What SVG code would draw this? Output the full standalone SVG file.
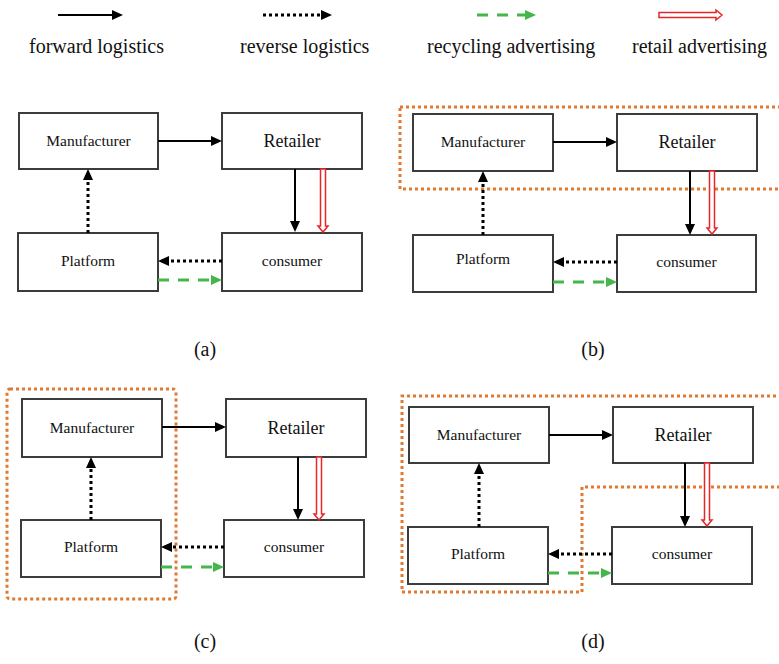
<svg xmlns="http://www.w3.org/2000/svg" width="779" height="664" viewBox="0 0 779 664">
<style>
text{font-family:"Liberation Serif","Times New Roman",serif;fill:#111;}
.lg{font-size:20px;}
.nm{font-size:15.5px;text-anchor:middle;}
.nr{font-size:18px;text-anchor:middle;}
.lb{font-size:20px;text-anchor:middle;}
.box{fill:#fff;stroke:#3c3c3c;stroke-width:2;}
.fw{stroke:#000;stroke-width:2;fill:none;marker-end:url(#hb);}
.rv{stroke:#000;stroke-width:3;stroke-dasharray:3 3;fill:none;marker-end:url(#hb);}
.rc{stroke:#45b649;stroke-width:3;stroke-dasharray:11 9;fill:none;marker-end:url(#hg);}
.org{fill:none;stroke:#e2792f;stroke-width:3;stroke-dasharray:3 3;}
.ra{fill:#fff;stroke:#e8262a;stroke-width:1.5;}
</style>
<defs>
<marker id="hb" markerUnits="userSpaceOnUse" markerWidth="12" markerHeight="10" refX="0" refY="5" orient="auto"><path d="M0,0 L11,5 L0,10 z" fill="#000"/></marker>
<marker id="hg" markerUnits="userSpaceOnUse" markerWidth="12" markerHeight="10" refX="0" refY="5" orient="auto"><path d="M0,0 L11,5 L0,10 z" fill="#45b649"/></marker>
<polygon id="ha" class="ra" points="-2.5,0 2.5,0 2.5,57 5,57 0,63 -5,57 -2.5,57"/>
</defs>

<g id="legend">
<line class="fw" x1="58" y1="15" x2="112" y2="15"/>
<line class="rv" x1="263" y1="15" x2="321" y2="15"/>
<line class="rc" x1="477" y1="15" x2="525" y2="15"/>
<use href="#ha" transform="translate(659,15) rotate(-90)"/>
<text class="lg" x="29" y="53">forward logistics</text>
<text class="lg" x="240" y="53">reverse logistics</text>
<text class="lg" x="427" y="53">recycling advertising</text>
<text class="lg" x="632" y="53">retail advertising</text>
</g>

<!-- Panel (a) -->
<g id="a-manufacturer"><rect class="box" x="19" y="113" width="139" height="56"/><text class="nm" x="88.5" y="146">Manufacturer</text></g>
<g id="a-retailer"><rect class="box" x="222" y="113" width="140" height="56"/><text class="nr" x="292" y="147">Retailer</text></g>
<g id="a-platform"><rect class="box" x="18" y="233" width="140" height="58"/><text class="nm" x="88" y="266">Platform</text></g>
<g id="a-consumer"><rect class="box" x="222" y="233" width="140" height="58"/><text class="nm" x="292" y="266">consumer</text></g>
<g id="a-connectors">
<line class="fw" x1="158" y1="141" x2="211" y2="141"/>
<line class="fw" x1="295" y1="169" x2="295" y2="221"/>
<use href="#ha" transform="translate(323,169)"/>
<line class="rv" x1="88" y1="233" x2="88" y2="180"/>
<line class="rv" x1="222" y1="261" x2="169" y2="261"/>
<line class="rc" x1="158" y1="280" x2="211" y2="280"/>
</g>
<text id="label-a" class="lb" x="205" y="356">(a)</text>

<!-- Panel (b) -->
<g id="b-group"><rect class="org" x="400" y="107" width="382" height="82"/></g>
<g id="b-manufacturer"><rect class="box" x="413" y="114" width="140" height="57"/><text class="nm" x="483" y="147">Manufacturer</text></g>
<g id="b-retailer"><rect class="box" x="617" y="114" width="140" height="57"/><text class="nr" x="687" y="148">Retailer</text></g>
<g id="b-platform"><rect class="box" x="413" y="235" width="140" height="57"/><text class="nm" x="483" y="264">Platform</text></g>
<g id="b-consumer"><rect class="box" x="617" y="235" width="139" height="57"/><text class="nm" x="686.5" y="267">consumer</text></g>
<g id="b-connectors">
<line class="fw" x1="553" y1="142" x2="606" y2="142"/>
<line class="fw" x1="690" y1="171" x2="690" y2="224"/>
<use href="#ha" transform="translate(712,171)"/>
<line class="rv" x1="483" y1="235" x2="483" y2="182"/>
<line class="rv" x1="617" y1="262" x2="564" y2="262"/>
<line class="rc" x1="553" y1="282" x2="606" y2="282"/>
</g>
<text id="label-b" class="lb" x="593" y="356">(b)</text>

<!-- Panel (c) -->
<g id="c-group"><rect class="org" x="7" y="389" width="169" height="210" rx="3"/></g>
<g id="c-manufacturer"><rect class="box" x="22" y="399" width="140" height="58"/><text class="nm" x="92" y="433">Manufacturer</text></g>
<g id="c-retailer"><rect class="box" x="226" y="399" width="140" height="58"/><text class="nr" x="296" y="434">Retailer</text></g>
<g id="c-platform"><rect class="box" x="21" y="520" width="140" height="57"/><text class="nm" x="91" y="552">Platform</text></g>
<g id="c-consumer"><rect class="box" x="224" y="520" width="140" height="57"/><text class="nm" x="294" y="552">consumer</text></g>
<g id="c-connectors">
<line class="fw" x1="162" y1="427" x2="215" y2="427"/>
<line class="fw" x1="298" y1="457" x2="298" y2="509"/>
<use href="#ha" transform="translate(319,457)"/>
<line class="rv" x1="91" y1="520" x2="91" y2="468"/>
<line class="rv" x1="224" y1="547" x2="172" y2="547"/>
<line class="rc" x1="161" y1="567" x2="213" y2="567"/>
</g>
<text id="label-c" class="lb" x="205" y="648">(c)</text>

<!-- Panel (d) -->
<g id="d-group"><path class="org" d="M782,396 H402 V592 H582 V487 H782"/></g>
<g id="d-manufacturer"><rect class="box" x="409" y="407" width="140" height="56"/><text class="nm" x="479" y="440">Manufacturer</text></g>
<g id="d-retailer"><rect class="box" x="613" y="407" width="140" height="56"/><text class="nr" x="683" y="441">Retailer</text></g>
<g id="d-platform"><rect class="box" x="408" y="527" width="140" height="57"/><text class="nm" x="478" y="559">Platform</text></g>
<g id="d-consumer"><rect class="box" x="612" y="527" width="140" height="57"/><text class="nm" x="682" y="559">consumer</text></g>
<g id="d-connectors">
<line class="fw" x1="549" y1="435" x2="602" y2="435"/>
<line class="fw" x1="685" y1="463" x2="685" y2="516"/>
<use href="#ha" transform="translate(707,463)"/>
<line class="rv" x1="479" y1="527" x2="479" y2="474"/>
<line class="rv" x1="612" y1="554" x2="559" y2="554"/>
<line class="rc" x1="548" y1="573" x2="601" y2="573"/>
</g>
<text id="label-d" class="lb" x="593" y="648">(d)</text>
</svg>
